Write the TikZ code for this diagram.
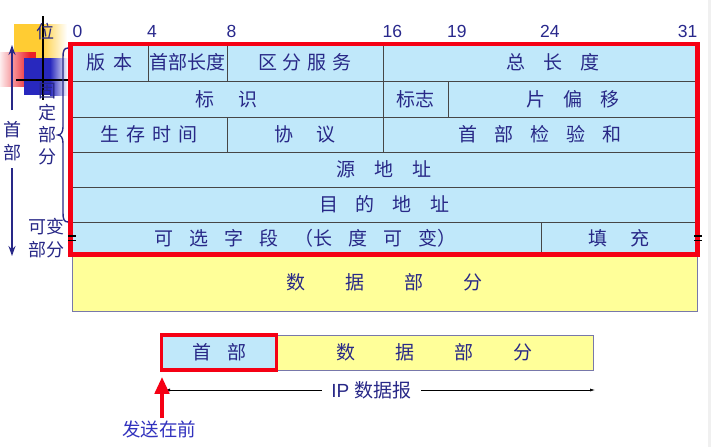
\documentclass[tikz,border=0pt]{standalone}
\usepackage{fontspec}
\setmainfont{Liberation Sans}
\newfontfamily\cjk{Noto Sans CJK SC}
\usetikzlibrary{arrows.meta}
\definecolor{cellblue}{RGB}{192,232,250}
\definecolor{datayel}{RGB}{255,255,153}
\definecolor{navy}{RGB}{40,40,135}
\definecolor{numblue}{RGB}{40,40,140}
\definecolor{redb}{RGB}{245,0,20}
\definecolor{gridgray}{RGB}{70,70,70}
\definecolor{sendblue}{RGB}{50,50,190}
\definecolor{decoyel}{RGB}{255,204,51}
\definecolor{decored}{RGB}{235,30,40}
\definecolor{decoblue}{RGB}{40,40,190}
\definecolor{yelborder}{RGB}{120,120,170}
\newcommand\cjkbig{\cjk\fontsize{19}{19}\selectfont}
\newcommand\gapx[1]{\hspace{#1pt}}
\newcommand\fieldcell[6]{\node[fieldbox, minimum width={(#4-#2)*1pt}, minimum height={(#5-#3)*1pt}] (#1) at ({(#2+#4)/2},{(#3+#5)/2}) {#6};}
\begin{document}
\begin{tikzpicture}[x=1pt,y=-1pt,
  fieldbox/.style={draw=gridgray, line width=0.8pt, fill=cellblue, inner sep=0pt, text=navy, font=\cjkbig},
  databox/.style={draw=yelborder, line width=0.8pt, fill=datayel, inner sep=0pt, text=navy, font=\cjkbig},
  hdrbox/.style={draw=redb, line width=3.5pt, fill=cellblue, inner sep=0pt, text=navy, font=\cjkbig},
  redframe/.style={draw=redb, line width=4.5pt},
  numlabel/.style={text=numblue, font=\fontsize{17.5}{17.5}\selectfont, inner sep=0pt},
  sidelabel/.style={text=navy, font=\cjk\fontsize{18}{22}\selectfont, align=center, inner sep=0pt},
  sidelabelb/.style={text=navy, font=\cjk\fontsize{18}{23}\selectfont, align=center, inner sep=0pt},
  navyarrow/.style={draw=navy, line width=1.6pt, -{Stealth[length=10pt,width=7pt]}},
  bracepath/.style={draw=navy, line width=1.4pt},
  crossline/.style={draw=black, line width=1.6pt},
  breakmark/.style={draw=black, line width=1.8pt},
  dimline/.style={draw=black, line width=0.6pt, {Latex[length=5pt,width=3pt]}-{Latex[length=5pt,width=3pt]}},
  iplabel/.style={fill=white, text=navy, inner xsep=9pt, inner ysep=1pt, font=\fontsize{19}{19}\selectfont},
  sendarrow/.style={draw=redb, line width=4.5pt, -{Triangle[length=17pt,width=14pt]}},
  sendlabel/.style={text=sendblue, font=\cjk\fontsize{18.5}{18.5}\selectfont, inner sep=0pt}
]
\useasboundingbox (0,0) rectangle (711,447);
\fill[white] (0,0) rectangle (711,447);
\fill[gray!12] (708,0) rectangle (711,447);

% decorative squares
\fill[decoyel] (14,24) rectangle (40,58);
\shade[left color=decoyel, right color=white] (40,24) rectangle (67,58);
\shade[left color=decored!8, right color=decored] (0,52) rectangle (30,86);
\fill[decored] (30,52) rectangle (36,86);
\fill[decoblue] (24,58) rectangle (50,95);
\shade[left color=decoblue, right color=white] (50,58) rectangle (68,95);
\draw[crossline] (43,16) -- (43,100);
\draw[crossline] (16,80) -- (71,80);

% header fields
\fieldcell{ver}{70.5}{44}{148}{81}{版\gapx{8}本}
\fieldcell{ihl}{148}{44}{227}{81}{首部长度}
\fieldcell{ds}{227}{44}{383}{81}{区\gapx{6}分\gapx{6}服\gapx{6}务}
\fieldcell{tl}{383}{44}{697.5}{81}{\hspace*{26pt}总\gapx{18}长\gapx{18}度}
\fieldcell{ident}{70.5}{81}{383}{117}{标\gapx{24}识}
\fieldcell{flag}{383}{81}{448}{117}{标志}
\fieldcell{frag}{448}{81}{697.5}{117}{片\gapx{18}偏\gapx{18}移}
\fieldcell{ttl}{70.5}{117}{227}{152}{生\gapx{7}存\gapx{7}时\gapx{7}间}
\fieldcell{proto}{227}{117}{383}{152}{协\gapx{23}议}
\fieldcell{cks}{383}{117}{697.5}{152}{首\gapx{17}部\gapx{17}检\gapx{17}验\gapx{17}和}
\fieldcell{src}{70.5}{152}{697.5}{187}{源\gapx{19}地\gapx{19}址}
\fieldcell{dst}{70.5}{187}{697.5}{222}{目\gapx{18}的\gapx{18}地\gapx{18}址}
\fieldcell{opt}{70.5}{222}{541}{254.5}{可\gapx{16}选\gapx{16}字\gapx{16}段\gapx{16}（长\gapx{16}度\gapx{16}可\gapx{16}变）}
\fieldcell{pad}{541}{222}{697.5}{254.5}{填\gapx{23}充}

\node[databox, minimum width=625pt, minimum height=56.5pt] (data) at (384.5,282.75) {数\gapx{40}据\gapx{40}部\gapx{40}分};

\draw[redframe] (70.5,44) rectangle (697.5,254.5);

\draw[breakmark] (68,236) -- (76,236) (68,240.5) -- (76,240.5);
\draw[breakmark] (694,236) -- (702,236) (694,240.5) -- (702,240.5);

% bit numbers
\node[numlabel, anchor=west] (b0) at (72.5,31) {0};
\node[numlabel, anchor=west] (b4) at (147,31) {4};
\node[numlabel, anchor=west] (b8) at (226.5,31) {8};
\node[numlabel, anchor=west] (b16) at (382.5,31) {16};
\node[numlabel, anchor=west] (b19) at (447,31) {19};
\node[numlabel, anchor=west] (b24) at (540,31) {24};
\node[numlabel, anchor=east] (b31) at (697.5,31) {31};

% left labels
\node[sidelabel] (wei) at (45.5,31.5) {位};
\node[sidelabel] (fixed) at (47,124) {固\\定\\部\\分};
\node[sidelabelb] (hdrlbl) at (12,141.5) {首\\部};
\node[sidelabelb] (varlbl) at (46,238.5) {可变\\部分};
\coordinate (upTail) at (12,110);
\coordinate (upTip) at (12,45);
\coordinate (dnTail) at (12,168);
\coordinate (dnTip) at (12,256);
\draw[navyarrow] (upTail) -- (upTip);
\draw[navyarrow] (dnTail) -- (dnTip);
\draw[bracepath] (68,48) .. controls (64,48) and (63,51) .. (63,57) -- (63,127)
  .. controls (63,132) and (61,135) .. (58,135)
  .. controls (61,135) and (63,138) .. (63,143) -- (63,213)
  .. controls (63,219) and (64,222) .. (68,222);

% bottom datagram
\node[databox, minimum width=316.5pt, minimum height=35pt] (bdata) at (434.75,352.5) {数\gapx{40}据\gapx{40}部\gapx{40}分};
\node[hdrbox, minimum width=115pt, minimum height=35pt] (hdr) at (219,352.5) {首\gapx{16}部};
\coordinate (ipL) at (165,390);
\coordinate (ipR) at (595,390);
\draw[dimline] (ipL) -- node[iplabel, pos=0.48] (iplbl) {IP {\cjk 数据报}} (ipR);
\coordinate (sendTail) at (162,418);
\draw[sendarrow, shorten >=5pt] (sendTail) -- (sendTail |- hdr.south);
\node[sendlabel] (send) at (159,429) {发送在前};
\end{tikzpicture}
\end{document}
